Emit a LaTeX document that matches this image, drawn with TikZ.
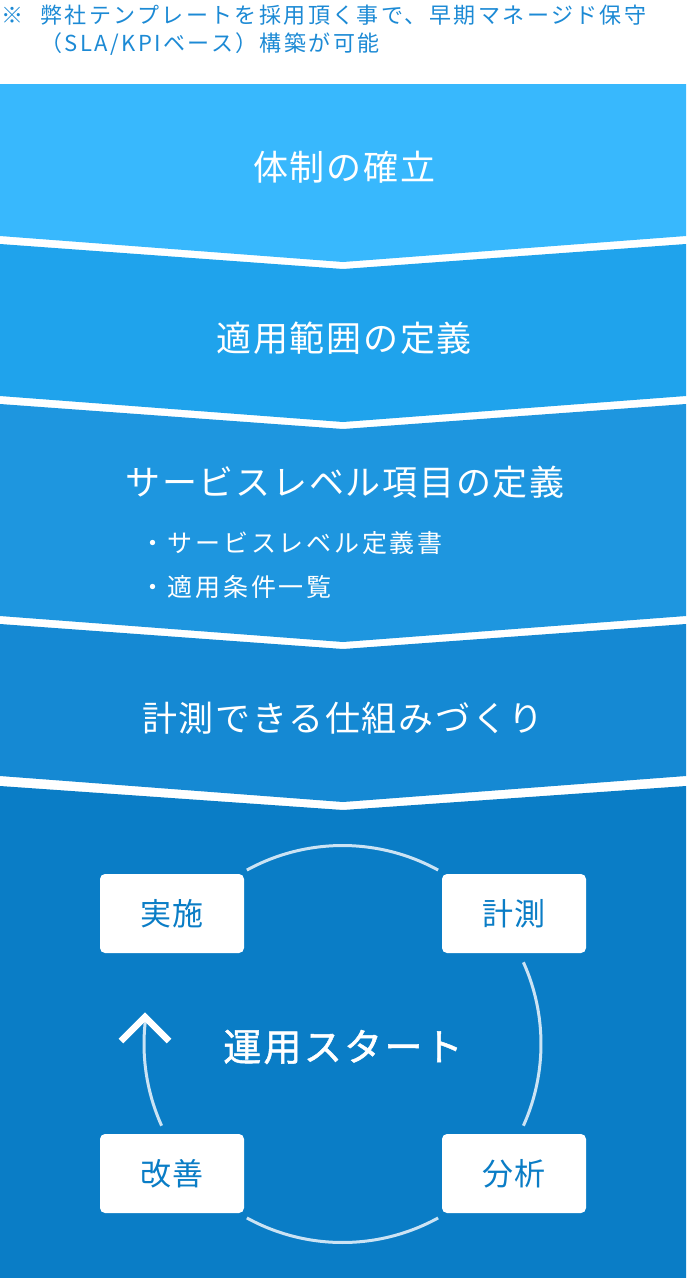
\documentclass[tikz,border=0pt]{standalone}
\usepackage{fontspec}
\setmainfont{Noto Sans CJK JP}
\newfontfamily\jpA[LetterSpace=5]{Noto Sans CJK JP}
\newfontfamily\jpB[LetterSpace=11]{Noto Sans CJK JP}
\newfontfamily\jpC[LetterSpace=11]{Noto Sans CJK JP}
\newfontfamily\jpD[LetterSpace=6,FakeBold=1.3]{Noto Sans CJK JP}
\definecolor{bandA}{HTML}{38B8FD}
\definecolor{bandB}{HTML}{1FA3EC}
\definecolor{bandC}{HTML}{1E96DF}
\definecolor{bandD}{HTML}{1589D3}
\definecolor{bandE}{HTML}{0A7DC6}
\definecolor{notec}{HTML}{1C8AD5}
\definecolor{boxtxt}{HTML}{0A7DC6}
\definecolor{arcc}{HTML}{CBE3F4}
\begin{document}
\begin{tikzpicture}[x=1pt,y=-1pt,
  heading/.style={inner sep=0pt, text=white, font={\jpA\fontsize{35}{40}\selectfont}},
  subitem/.style={inner sep=0pt, anchor=west, text=white, font={\jpB\fontsize{25}{30}\selectfont}},
  notetext/.style={inner sep=0pt, anchor=west, text=notec, font={\jpC\fontsize{22}{26}\selectfont}},
  cyclebox/.style={fill=white, rounded corners=5pt, minimum width=144pt, minimum height=79pt, inner sep=0pt, text=boxtxt, font={\jpA\fontsize{31}{36}\selectfont}},
  cyclearc/.style={draw=arcc, line width=3pt},
]
\useasboundingbox (0,0) rectangle (686,1278);
\fill[white] (0,0) rectangle (686,1278);
% bands
\fill[bandA] (0,84) -- (686,84) -- (686,236) -- (343,262) -- (0,236) -- cycle;
\fill[bandB] (0,244) -- (343,269) -- (686,244) -- (686,396) -- (343,422) -- (0,396) -- cycle;
\fill[bandC] (0,404) -- (343,429) -- (686,404) -- (686,616) -- (343,642) -- (0,616) -- cycle;
\fill[bandD] (0,624) -- (343,649) -- (686,624) -- (686,776) -- (343,802) -- (0,776) -- cycle;
\fill[bandE] (0,786) -- (343,810) -- (686,786) -- (686,1278) -- (0,1278) -- cycle;
% note
\node[notetext] (mark) at (1,15) {※};
\node[notetext] (note1) at (40,15) {弊社テンプレートを採用頂く事で、早期マネージド保守};
\node[notetext] (note2) at (40,44) {（SLA/KPIベース）構築が可能};
% headings
\node[heading] (h1) at (344,167) {体制の確立};
\node[heading] (h2) at (344,338) {適用範囲の定義};
\node[heading] (h3) at (345,482) {サービスレベル項目の定義};
\node[subitem] (s1) at (140,543) {・サービスレベル定義書};
\node[subitem] (s2) at (140,587) {・適用条件一覧};
\node[heading] (h4) at (343,718) {計測できる仕組みづくり};
% cycle
\coordinate (c) at (342.5,1044);
\draw[cyclearc] ([shift={(-118.8:198.5)}]c) arc[start angle=-118.8, end angle=-61.2, radius=198.5];
\draw[cyclearc] ([shift={(-24.3:198.5)}]c) arc[start angle=-24.3, end angle=24.3, radius=198.5];
\draw[cyclearc] ([shift={(61.2:198.5)}]c) arc[start angle=61.2, end angle=118.8, radius=198.5];
\draw[cyclearc] ([shift={(155.7:198.5)}]c) arc[start angle=155.7, end angle=188.5, radius=198.5];
\coordinate (tip) at (145,1017);
\draw[white, line width=6.5pt, miter limit=10] (121,1041) -- (tip) -- (169,1041);
\node[cyclebox] (jisshi) at (172,913.5) {実施};
\node[cyclebox] (keisoku) at (514,913.5) {計測};
\node[cyclebox] (kaizen) at (172,1173.5) {改善};
\node[cyclebox] (bunseki) at (514,1173.5) {分析};
\node[inner sep=0pt, text=white, font={\jpD\fontsize{38}{44}\selectfont}] (start) at (343,1047) {運用スタート};
\end{tikzpicture}
\end{document}
